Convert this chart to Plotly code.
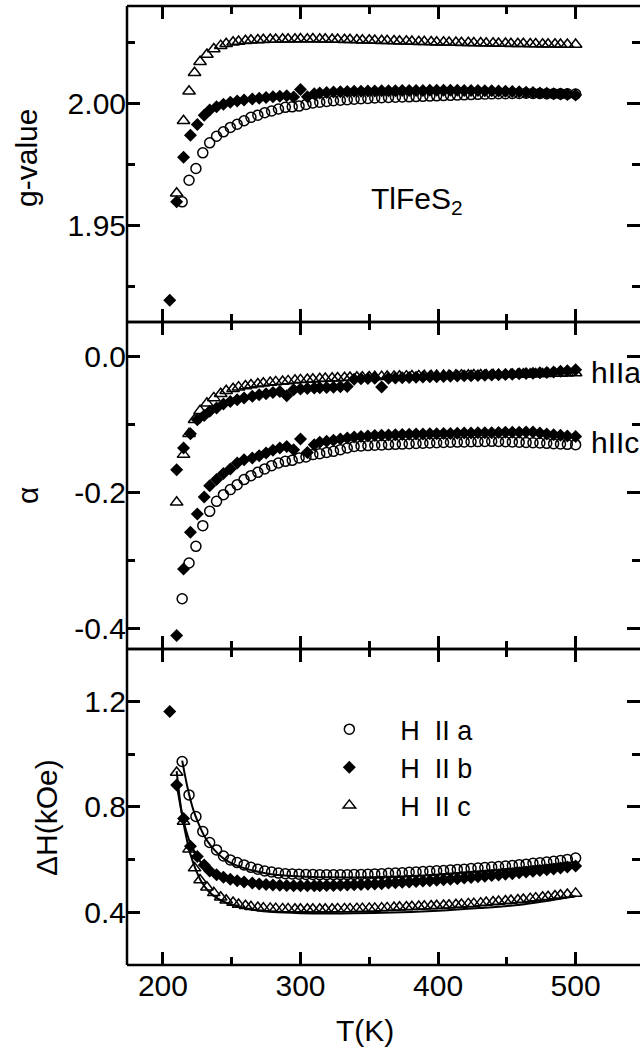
import plotly.graph_objects as go

# ---------------- data ----------------
# H || a  (open circles)
T_a = [214, 219, 224, 229, 234, 239, 244, 249, 254, 259,
       264, 269, 274, 279, 284, 289, 294, 299, 304, 309,
       314, 319, 324, 329, 334, 339, 344, 349, 354, 359,
       364, 369, 374, 379, 384, 389, 394, 399, 404, 409,
       414, 419, 424, 429, 434, 439, 444, 449, 454, 459,
       464, 469, 474, 479, 484, 489, 494, 500]
g_a = [1.9598, 1.9686, 1.9734, 1.9798, 1.9839, 1.9866, 1.9884, 1.9902, 1.9915, 1.9929,
       1.9943, 1.9952, 1.9962, 1.9969, 1.9977, 1.9984, 1.9986, 1.9989, 1.9996, 2.0002,
       2.0005, 2.0008, 2.0011, 2.0013, 2.0015, 2.0017, 2.0019, 2.0020, 2.0022, 2.0023,
       2.0024, 2.0025, 2.0026, 2.0027, 2.0028, 2.0029, 2.0030, 2.0031, 2.0032, 2.0033,
       2.0034, 2.0035, 2.0036, 2.0037, 2.0038, 2.0039, 2.0040, 2.0040, 2.0041, 2.0041,
       2.0042, 2.0041, 2.0041, 2.0040, 2.0040, 2.0039, 2.0039, 2.0038]
alpha_a = [-0.356, -0.3034, -0.279, -0.2486, -0.2276, -0.2129, -0.2031, -0.1957, -0.1884, -0.181,
           -0.1752, -0.1703, -0.1653, -0.1605, -0.1566, -0.1542, -0.1527, -0.1492, -0.1477, -0.1443,
           -0.1429, -0.141, -0.1395, -0.137, -0.1346, -0.1322, -0.1315, -0.1310, -0.1305, -0.1300,
           -0.1296, -0.1292, -0.1288, -0.1284, -0.1280, -0.1276, -0.1272, -0.1268, -0.1265, -0.1262,
           -0.1259, -0.1256, -0.1254, -0.1252, -0.1250, -0.1248, -0.1250, -0.1253, -0.1256, -0.1260,
           -0.1264, -0.1268, -0.1272, -0.1277, -0.1282, -0.1287, -0.1292, -0.1297]
dH_a = [0.972, 0.845, 0.763, 0.706, 0.664, 0.636, 0.613, 0.598, 0.588, 0.579,
        0.570, 0.563, 0.556, 0.552, 0.548, 0.546, 0.545, 0.544, 0.543, 0.543,
        0.542, 0.542, 0.542, 0.542, 0.542, 0.543, 0.543, 0.544, 0.545, 0.546,
        0.547, 0.548, 0.549, 0.551, 0.552, 0.554, 0.555, 0.557, 0.558, 0.560,
        0.562, 0.563, 0.565, 0.567, 0.569, 0.571, 0.573, 0.575, 0.577, 0.580,
        0.582, 0.585, 0.587, 0.590, 0.593, 0.596, 0.600, 0.605]

# H || b  (filled diamonds)
T_b = [205, 210, 215, 220, 225, 230, 234, 239, 244, 249,
       254, 259, 265, 270, 275, 280, 285, 290, 295, 300,
       305, 310, 314, 319, 324, 329, 334, 339, 344, 349,
       354, 359, 364, 369, 374, 379, 384, 389, 394, 399,
       404, 409, 414, 419, 424, 429, 434, 439, 444, 449,
       454, 459, 464, 469, 474, 479, 484, 489, 494, 500]
g_b = [1.9196, 1.9598, 1.9780, 1.9870, 1.9914, 1.9952, 1.9973, 1.9986, 1.9997, 2.0005,
       2.0010, 2.0014, 2.0018, 2.0021, 2.0024, 2.0027, 2.0029, 2.0031, 2.0026, 2.0057,
       2.0027, 2.0040, 2.0043, 2.0045, 2.0047, 2.0048, 2.0049, 2.0050, 2.0050, 2.0051,
       2.0051, 2.0052, 2.0052, 2.0052, 2.0053, 2.0053, 2.0053, 2.0053, 2.0054, 2.0054,
       2.0054, 2.0054, 2.0054, 2.0053, 2.0053, 2.0053, 2.0052, 2.0052, 2.0051, 2.0050,
       2.0049, 2.0048, 2.0046, 2.0045, 2.0043, 2.0042, 2.0040, 2.0038, 2.0036, 2.0034]
alpha_b_ha = [None, -0.1664, -0.1346, -0.1135, -0.0930, -0.0870, -0.0807, -0.0758, -0.0700, -0.0662,
              -0.0636, -0.0611, -0.0587, -0.0565, -0.0548, -0.0530, -0.0515, -0.0577, -0.0490, -0.0480,
              -0.0472, -0.0466, -0.0462, -0.0457, -0.0452, -0.0447, -0.0442, -0.0335, -0.0330, -0.0326,
              -0.0323, -0.0450, -0.0320, -0.0316, -0.0313, -0.0310, -0.0307, -0.0304, -0.0301, -0.0298,
              -0.0295, -0.0292, -0.0289, -0.0286, -0.0283, -0.0280, -0.0277, -0.0274, -0.0270, -0.0266,
              -0.0262, -0.0257, -0.0252, -0.0247, -0.0242, -0.0236, -0.0229, -0.0220, -0.0210, -0.0195]
alpha_b_hc = [None, -0.4100, -0.3122, -0.2584, -0.2314, -0.2065, -0.1899, -0.1810, -0.1722, -0.1654,
              -0.1566, -0.1517, -0.1492, -0.1458, -0.1419, -0.1380, -0.1346, -0.1322, -0.1370, -0.1213,
              -0.1410, -0.1297, -0.1263, -0.1248, -0.1233, -0.1213, -0.1198, -0.1184, -0.1175, -0.1168,
              -0.1162, -0.1158, -0.1154, -0.1150, -0.1147, -0.1144, -0.1141, -0.1139, -0.1137, -0.1135,
              -0.1133, -0.1131, -0.1129, -0.1127, -0.1125, -0.1123, -0.1121, -0.1120, -0.1118, -0.1116,
              -0.1115, -0.1113, -0.1112, -0.1110, -0.1125, -0.1140, -0.1150, -0.1160, -0.1168, -0.1175]
dH_b = [1.162, 0.883, 0.755, 0.650, 0.611, 0.579, 0.556, 0.542, 0.532, 0.525,
        0.519, 0.514, 0.510, 0.507, 0.505, 0.503, 0.502, 0.501, 0.500, 0.500,
        0.500, 0.500, 0.500, 0.501, 0.501, 0.502, 0.503, 0.504, 0.505, 0.506,
        0.507, 0.508, 0.510, 0.511, 0.513, 0.514, 0.516, 0.518, 0.519, 0.521,
        0.523, 0.525, 0.527, 0.529, 0.531, 0.534, 0.536, 0.539, 0.541, 0.544,
        0.546, 0.549, 0.552, 0.555, 0.558, 0.561, 0.564, 0.567, 0.571, 0.575]

# H || c  (open triangles)
T_c = [210, 215, 219, 223, 227, 232, 237, 242, 246, 251,
       255, 260, 264, 269, 273, 278, 282, 287, 291, 296,
       300, 305, 309, 314, 318, 323, 327, 332, 336, 341,
       345, 350, 354, 359, 363, 368, 372, 377, 381, 386,
       390, 395, 399, 404, 408, 413, 417, 422, 426, 431,
       435, 440, 444, 449, 453, 458, 462, 467, 471, 476,
       480, 485, 489, 494, 500]
g_c = [1.9633, 1.9929, 2.0050, 2.0125, 2.0170, 2.0200, 2.0222, 2.0236, 2.0244, 2.0250,
       2.0253, 2.0256, 2.0258, 2.0259, 2.0260, 2.0261, 2.0261, 2.0262, 2.0262, 2.0262,
       2.0263, 2.0262, 2.0263, 2.0262, 2.0262, 2.0261, 2.0261, 2.0260, 2.0260, 2.0259,
       2.0258, 2.0258, 2.0257, 2.0256, 2.0256, 2.0255, 2.0254, 2.0254, 2.0253, 2.0252,
       2.0252, 2.0251, 2.0250, 2.0250, 2.0249, 2.0249, 2.0248, 2.0248, 2.0247, 2.0247,
       2.0246, 2.0246, 2.0245, 2.0245, 2.0244, 2.0244, 2.0244, 2.0243, 2.0243, 2.0242,
       2.0242, 2.0242, 2.0241, 2.0241, 2.0241]
alpha_c = [-0.2144, -0.1443, -0.1135, -0.0930, -0.0800, -0.0690, -0.0610, -0.0550, -0.0505, -0.0475,
           -0.0452, -0.0435, -0.0420, -0.0405, -0.0395, -0.0385, -0.0375, -0.0368, -0.0360, -0.0352,
           -0.0345, -0.0340, -0.0335, -0.0330, -0.0326, -0.0322, -0.0318, -0.0314, -0.0310, -0.0308,
           -0.0305, -0.0302, -0.0300, -0.0298, -0.0296, -0.0294, -0.0292, -0.0290, -0.0288, -0.0287,
           -0.0285, -0.0284, -0.0282, -0.0281, -0.0280, -0.0278, -0.0277, -0.0276, -0.0275, -0.0274,
           -0.0272, -0.0271, -0.0270, -0.0268, -0.0267, -0.0265, -0.0263, -0.0261, -0.0259, -0.0257,
           -0.0255, -0.0252, -0.0250, -0.0247, -0.0244]
dH_c = [0.930, 0.744, 0.639, 0.567, 0.522, 0.494, 0.473, 0.456, 0.445, 0.436,
        0.429, 0.424, 0.420, 0.417, 0.415, 0.414, 0.413, 0.412, 0.412, 0.411,
        0.411, 0.411, 0.411, 0.411, 0.411, 0.411, 0.412, 0.412, 0.412, 0.413,
        0.413, 0.414, 0.414, 0.415, 0.416, 0.417, 0.418, 0.419, 0.420, 0.421,
        0.422, 0.423, 0.424, 0.425, 0.426, 0.428, 0.429, 0.431, 0.432, 0.434,
        0.436, 0.438, 0.440, 0.442, 0.444, 0.446, 0.448, 0.451, 0.453, 0.456,
        0.458, 0.461, 0.464, 0.467, 0.471]

# fitted curves in the linewidth panel
fitT_a = [214, 218, 222, 226, 230, 235, 240, 245, 250, 260, 270, 280, 300, 320, 350, 380, 400, 430, 460, 500]
fit_a = [0.975, 0.870, 0.790, 0.735, 0.690, 0.650, 0.622, 0.600, 0.585, 0.565,
         0.552, 0.543, 0.535, 0.532, 0.532, 0.537, 0.543, 0.555, 0.568, 0.590]
fitT_b = [210, 214, 218, 222, 226, 230, 235, 240, 250, 260, 270, 290, 320, 350, 380, 400, 430, 460, 500]
fit_b = [0.885, 0.770, 0.690, 0.635, 0.600, 0.573, 0.550, 0.536, 0.518, 0.508,
         0.502, 0.497, 0.497, 0.502, 0.511, 0.518, 0.532, 0.548, 0.572]
fitT_c = [210, 213, 216, 220, 224, 228, 233, 238, 245, 255, 265, 280, 300, 330, 360, 400, 430, 460, 500]
fit_c = [0.935, 0.800, 0.710, 0.620, 0.560, 0.515, 0.480, 0.458, 0.438, 0.420,
         0.409, 0.400, 0.396, 0.395, 0.397, 0.405, 0.415, 0.428, 0.460]

legend_names = ["H\u00a0\u00a0II\u00a0a", "H\u00a0\u00a0II\u00a0b", "H\u00a0\u00a0II\u00a0c"]

x_ticks = [200, 300, 400, 500]
x_ticktext = ["200", "300", "400", "500"]
g_ticks = [1.95, 2.00]
g_ticktext = ["1.95", "2.00"]
a_ticks = [-0.4, -0.2, 0.0]
a_ticktext = ["-0.4", "-0.2", "0.0"]
h_ticks = [0.4, 0.8, 1.2]
h_ticktext = ["0.4", "0.8", "1.2"]

# ---------------- figure ----------------
FONT = "Liberation Sans, Arial, Helvetica, sans-serif"
FS = 30
BLACK = "#000000"
TXT = dict(family=FONT, size=FS, color=BLACK)

circle = dict(symbol="circle-open", size=10, color=BLACK, line=dict(width=1.5, color=BLACK))
diamond = dict(symbol="diamond", size=10, color=BLACK, line=dict(width=0))
triangle = dict(symbol="triangle-up-open", size=11, color=BLACK, line=dict(width=1.5, color=BLACK))

fig = go.Figure()

def pts(x, y, marker, xa, ya, name=None, legend=False):
    fig.add_trace(go.Scatter(x=x, y=y, mode="markers", marker=marker, xaxis=xa, yaxis=ya,
                             name=name, showlegend=legend))

# panel 1 : g-value
pts(T_c, g_c, triangle, "x", "y")
pts(T_b, g_b, diamond, "x", "y")
pts(T_a, g_a, circle, "x", "y")
# panel 2 : alpha
pts(T_c, alpha_c, triangle, "x2", "y2")
pts(T_b, alpha_b_ha, diamond, "x2", "y2")
pts(T_b, alpha_b_hc, diamond, "x2", "y2")
pts(T_a, alpha_a, circle, "x2", "y2")
# panel 3 : linewidth with fits
for fx, fy in [(fitT_a, fit_a), (fitT_b, fit_b), (fitT_c, fit_c)]:
    fig.add_trace(go.Scatter(x=fx, y=fy, mode="lines", line=dict(color=BLACK, width=2, shape="spline", smoothing=0.8),
                             xaxis="x3", yaxis="y3", showlegend=False, hoverinfo="skip"))
pts(T_a, dH_a, circle, "x3", "y3", legend_names[0], True)
pts(T_b, dH_b, diamond, "x3", "y3", legend_names[1], True)
pts(T_c, dH_c, triangle, "x3", "y3", legend_names[2], True)

# invisible carrier traces so that the top / right tick axes are drawn
carriers = [("x", "y4", g_a), ("x2", "y5", alpha_a), ("x3", "y6", dH_a),
            ("x4", "y", g_a), ("x5", "y2", alpha_a), ("x6", "y3", dH_a)]
for xa, ya, yy in carriers:
    fig.add_trace(go.Scatter(x=T_a, y=yy, mode="markers", marker=dict(opacity=0), xaxis=xa, yaxis=ya,
                             showlegend=False, hoverinfo="skip"))

X_RANGE = [173.9, 546.8]
LW = 2.5

def minor(mdt, m0):
    return dict(dtick=mdt, tick0=m0, ticks="inside", ticklen=8, tickwidth=LW, tickcolor=BLACK)

# tick axes carry no axis line; the frame is drawn with domain-referenced shapes
def xaxis(show_labels, anchor):
    return dict(range=X_RANGE, anchor=anchor, showline=False, mirror=False,
                ticks="inside", ticklen=13, tickwidth=LW, tickcolor=BLACK,
                tickvals=x_ticks, ticktext=x_ticktext, showticklabels=show_labels,
                showgrid=False, zeroline=False, tickfont=TXT, minor=minor(50, 200))

def xtop(over, anchor):
    return dict(range=X_RANGE, overlaying=over, side="top", anchor=anchor, showline=False,
                ticks="inside", ticklen=13, tickwidth=LW, tickcolor=BLACK, tickvals=x_ticks,
                showticklabels=False, showgrid=False, zeroline=False, minor=minor(50, 200))

def yaxis(rng, dom, tv, tt, mdt, anchor):
    return dict(range=rng, domain=dom, anchor=anchor, showline=False, mirror=False,
                ticks="inside", ticklen=13, tickwidth=LW, tickcolor=BLACK,
                tickvals=tv, ticktext=tt, showgrid=False, zeroline=False, tickfont=TXT,
                minor=minor(mdt, tv[0]))

def yright(rng, tv, mdt, over, anchor):
    return dict(range=rng, overlaying=over, side="right", anchor=anchor, showline=False,
                ticks="inside", ticklen=13, tickwidth=LW, tickcolor=BLACK, tickvals=tv,
                showticklabels=False, showgrid=False, zeroline=False, minor=minor(mdt, tv[0]))

G_RANGE = [1.9107, 2.0398]
A_RANGE = [-0.4298, 0.0505]
H_RANGE = [0.199, 1.399]

# frame: left, top and bottom edge of each panel (the right edge lies outside the picture)
frame = []
for xr, yr in [("x", "y"), ("x2", "y2"), ("x3", "y3")]:
    for x0, y0, x1, y1 in [(0, 0, 0, 1), (0, 1, 1, 1), (0, 0, 1, 0)]:
        frame.append(dict(type="line", xref=xr + " domain", yref=yr + " domain",
                          x0=x0, y0=y0, x1=x1, y1=y1, line=dict(color=BLACK, width=LW), layer="above"))

fig.update_layout(
    template="none",
    width=640, height=1050,
    margin=dict(l=127, r=0, t=6, b=85),
    plot_bgcolor="white", paper_bgcolor="white",
    xaxis=xaxis(False, "y"),
    xaxis2=xaxis(False, "y2"),
    xaxis3=xaxis(True, "y3"),
    xaxis4=xtop("x", "y"),
    xaxis5=xtop("x2", "y2"),
    xaxis6=xtop("x3", "y3"),
    yaxis=yaxis(G_RANGE, [0.6705, 1.0], g_ticks, g_ticktext, 0.025, "x"),
    yaxis2=yaxis(A_RANGE, [0.3295, 0.6705], a_ticks, a_ticktext, 0.1, "x2"),
    yaxis3=yaxis(H_RANGE, [0.0, 0.3295], h_ticks, h_ticktext, 0.2, "x3"),
    yaxis4=yright(G_RANGE, g_ticks, 0.025, "y", "x"),
    yaxis5=yright(A_RANGE, a_ticks, 0.1, "y2", "x2"),
    yaxis6=yright(H_RANGE, h_ticks, 0.2, "y3", "x3"),
    shapes=frame,
    showlegend=True,
    legend=dict(x=0.334, y=0.271, xanchor="left", yanchor="top", bgcolor="rgba(0,0,0,0)",
                font=dict(family=FONT, size=27, color=BLACK), itemwidth=92,
                tracegroupgap=0, traceorder="normal"),
    annotations=[
        dict(text="g-value", x=-0.197, y=0.8415, xref="paper", yref="paper", textangle=-90,
             xanchor="center", yanchor="middle", showarrow=False, font=TXT),
        dict(text="\u03b1", x=-0.195, y=0.490, xref="paper", yref="paper", textangle=-90,
             xanchor="center", yanchor="middle", showarrow=False, font=TXT),
        dict(text="\u0394H(kOe)", x=-0.158, y=0.1543, xref="paper", yref="paper", textangle=-90,
             xanchor="center", yanchor="middle", showarrow=False, font=TXT),
        dict(text="T(K)", x=347, y=-0.0688, xref="x3", yref="paper", xanchor="center", yanchor="middle",
             showarrow=False, font=TXT),
        dict(text="TlFeS<sub>2</sub>", x=350, y=1.9605, xref="x", yref="y", xanchor="left", yanchor="middle",
             showarrow=False, font=TXT),
        dict(text="hIIa", x=509.7, y=-0.024, xref="x2", yref="y2", xanchor="left", yanchor="middle",
             showarrow=False, font=TXT),
        dict(text="hIIc", x=509.7, y=-0.127, xref="x2", yref="y2", xanchor="left", yanchor="middle",
             showarrow=False, font=TXT),
    ],
)

fig.write_html("out.html")
